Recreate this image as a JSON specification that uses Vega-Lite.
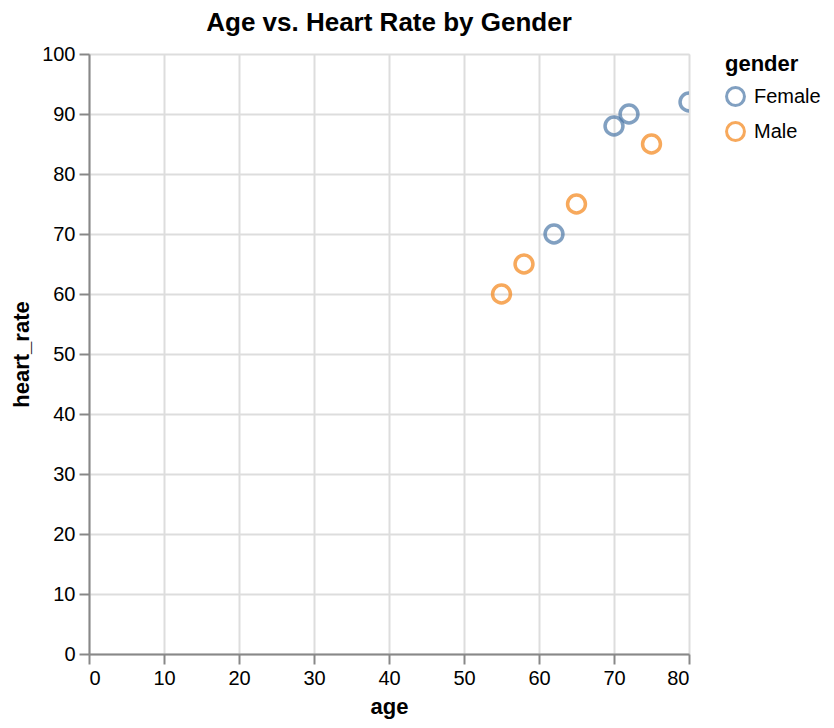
{
  "$schema": "https://vega.github.io/schema/vega-lite/v6.json",
  "title": {"text": "Age vs. Heart Rate by Gender", "fontSize": 26, "offset": 8},
  "padding": 10,
  "width": 600,
  "height": 600,
  "config": {
    "font": "Liberation Sans",
    "axis": {
      "labelFontSize": 20,
      "titleFontSize": 22,
      "tickSize": 10,
      "tickWidth": 2,
      "domainWidth": 2,
      "gridWidth": 2,
      "labelPadding": 4,
      "titlePadding": 8
    },
    "legend": {
      "titleFontSize": 22,
      "labelFontSize": 20,
      "offset": 36,
      "symbolSize": 320,
      "symbolStrokeWidth": 3,
      "labelOffset": 8,
      "rowPadding": 4,
      "titlePadding": 10
    }
  },
  "data": {
    "values": [
      {"age": 55, "heart_rate": 60, "gender": "Male"},
      {"age": 58, "heart_rate": 65, "gender": "Male"},
      {"age": 62, "heart_rate": 70, "gender": "Female"},
      {"age": 65, "heart_rate": 75, "gender": "Male"},
      {"age": 70, "heart_rate": 88, "gender": "Female"},
      {"age": 72, "heart_rate": 90, "gender": "Female"},
      {"age": 75, "heart_rate": 85, "gender": "Male"},
      {"age": 80, "heart_rate": 92, "gender": "Female"}
    ]
  },
  "mark": {"type": "point", "size": 320, "strokeWidth": 3.5, "clip": true},
  "encoding": {
    "x": {"field": "age", "type": "quantitative", "axis": {"tickCount": 8}},
    "y": {"field": "heart_rate", "type": "quantitative", "axis": {"tickCount": 10}},
    "color": {"field": "gender", "type": "nominal"}
  }
}
